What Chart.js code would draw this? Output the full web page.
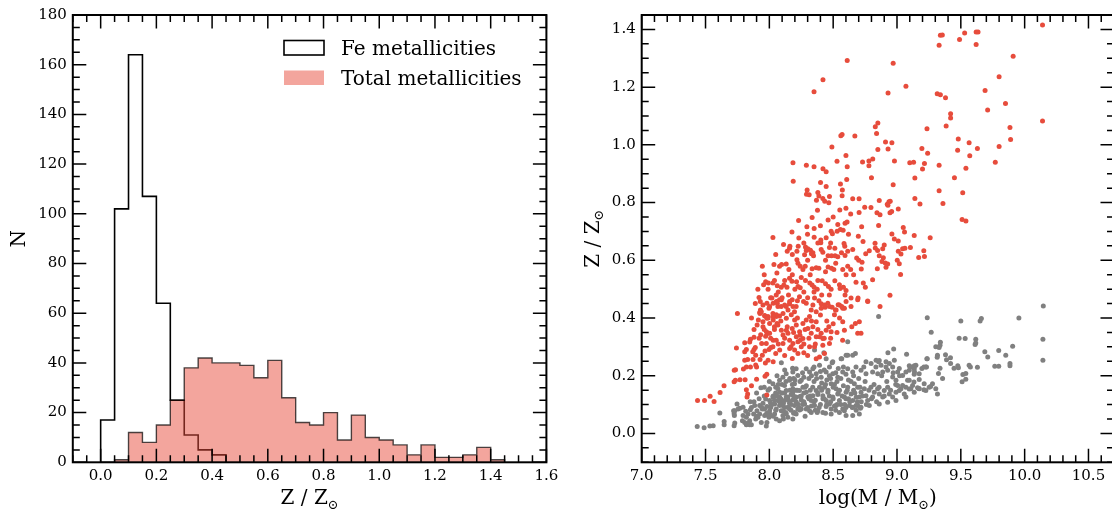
<!DOCTYPE html>
<html>
<head>
<meta charset="utf-8">
<script src="https://cdn.jsdelivr.net/npm/chart.js@4.4.1/dist/chart.umd.min.js"></script>
<style>
html, body { margin: 0; padding: 0; background: #fff; width: 1112px; height: 509px; overflow: hidden; }
canvas { position: absolute; top: 0; }
#hist { left: 0; }
#scatter { left: 560px; }
</style>
</head>
<body>
<canvas id="hist" width="567" height="509"></canvas>
<canvas id="scatter" width="574" height="509"></canvas>
<script>
// histogram bins (width 0.05 starting at 0.0)
const binStart = 0.0;
const binWidth = 0.05;
const feCounts = [17, 102, 164, 107, 64, 25, 11, 5, 3];
const totalCounts = [0, 1, 12, 8, 15, 25, 38, 42, 40, 40, 39, 34, 41, 26, 16, 15, 20, 9, 19, 10, 9, 7, 3, 7, 2, 2, 3, 6, 1];

const histXTicks = [0, 0.2, 0.4, 0.6, 0.8, 1.0, 1.2, 1.4, 1.6];
const histXLabels = ['0.0', '0.2', '0.4', '0.6', '0.8', '1.0', '1.2', '1.4', '1.6'];
const histYTicks = [0, 20, 40, 60, 80, 100, 120, 140, 160, 180];
const histYLabels = ['0', '20', '40', '60', '80', '100', '120', '140', '160', '180'];

const massTicks = [7.0, 7.5, 8.0, 8.5, 9.0, 9.5, 10.0, 10.5];
const massLabels = ['7.0', '7.5', '8.0', '8.5', '9.0', '9.5', '10.0', '10.5'];
const zTicks = [0, 0.2, 0.4, 0.6, 0.8, 1.0, 1.2, 1.4];
const zLabels = ['0.0', '0.2', '0.4', '0.6', '0.8', '1.0', '1.2', '1.4'];

// [log M, Z/Zsun]  total metallicities (red)
const totalPoints = [
[8.61,1.292],[8.97,1.283],[8.42,1.226],[8.35,1.184],[8.93,1.180],[9.07,1.203],[8.85,1.076],[8.83,1.063],[8.84,1.039],[8.57,1.036],
[8.56,1.032],[8.67,1.031],[8.91,1.010],[8.96,1.007],[8.49,0.993],[8.93,0.986],[8.85,0.984],[8.60,0.963],[8.53,0.943],[8.185,0.938],
[8.29,0.929],[8.35,0.924],[8.61,0.924],[8.42,0.917],[8.445,0.907],[8.73,0.941],[8.78,0.944],[8.81,0.951],[8.78,0.928],[8.98,0.944],
[9.10,0.938],[9.13,0.940],
[10.14,1.415],[9.34,1.380],[9.355,1.381],[9.53,1.388],[9.62,1.391],[9.635,1.391],[9.49,1.365],[9.33,1.345],[9.62,1.348],[9.91,1.307],
[9.80,1.236],[9.69,1.188],[9.315,1.177],[9.34,1.174],[9.38,1.163],[9.85,1.143],[9.71,1.121],[9.42,1.108],[9.42,1.093],[10.14,1.083],
[9.385,1.065],[9.235,1.056],[9.885,1.060],[9.89,1.019],[9.48,1.020],[9.565,1.007],[9.195,0.987],[9.24,0.971],[9.475,0.981],[9.63,0.987],
[9.57,0.962],[9.80,0.994],[9.215,0.935],[9.20,0.916],[9.33,0.929],[9.54,0.919],[9.77,0.940],[9.14,0.885],[9.45,0.886],[9.33,0.841],
[9.515,0.834],[9.14,0.814],[9.18,0.795],[9.36,0.797],[9.51,0.741],[9.54,0.736],[9.135,0.686],[9.26,0.678],[9.105,0.644],[9.21,0.633],
[9.17,0.610],[9.215,0.613],
[8.80,0.886],[8.97,0.862],[8.187,0.874],[8.296,0.844],[8.291,0.829],[8.312,0.827],[8.401,0.870],[8.445,0.856],[8.557,0.864],[8.606,0.880],
[8.572,0.844],[8.57,0.824],[8.38,0.835],[8.388,0.823],[8.471,0.821],[8.419,0.814],[8.434,0.805],[8.466,0.799],[8.369,0.808],[8.653,0.813],
[8.703,0.813],[8.747,0.784],[8.796,0.783],[8.861,0.807],[8.937,0.803],[8.947,0.805],[8.924,0.794],[8.929,0.791],[9.01,0.778],[8.843,0.765],
[8.867,0.758],[8.945,0.765],[8.958,0.769],[8.377,0.773],[8.552,0.774],[8.703,0.766],[8.637,0.760],[8.229,0.738],[8.335,0.748],[8.294,0.716],
[8.351,0.710],[8.177,0.698],[8.231,0.677],[8.299,0.690],[8.351,0.680],[8.028,0.679],[8.536,0.724],[8.593,0.728],[8.609,0.733],[8.531,0.701],
[8.557,0.707],[8.578,0.704],[8.445,0.678],[8.484,0.701],[8.494,0.692],[8.723,0.716],[8.856,0.721],[8.96,0.691],[8.979,0.674],[9.01,0.667],
[9.049,0.714],[9.059,0.698],[8.697,0.683],[8.734,0.665],[8.828,0.659],[8.90,0.653],[8.888,0.640],[9.01,0.631],[9.031,0.622],[9.044,0.640],
[9.062,0.642],[8.111,0.655],[8.14,0.631],[8.161,0.649],[8.158,0.642],[8.226,0.649],[8.216,0.631],[8.283,0.646],[8.302,0.640],[8.322,0.635],
[8.289,0.634],[8.341,0.626],[8.276,0.619],[8.33,0.623],[8.346,0.616],[8.406,0.637],[8.419,0.628],[8.403,0.661],[8.403,0.670],[8.46,0.616],
[8.487,0.616],[8.471,0.644],[8.513,0.642],[8.515,0.616],[8.536,0.612],[8.585,0.658],[8.591,0.649],[8.614,0.631],[8.565,0.626],[8.593,0.617],
[8.653,0.637],[8.684,0.608],[8.726,0.593],[8.755,0.623],[8.783,0.633],[8.83,0.643],[8.848,0.634],[8.861,0.616],[8.882,0.596],[8.893,0.609],
[8.908,0.591],[8.927,0.587],[8.914,0.576],[9.002,0.600],[9.018,0.588],[7.945,0.579],[8.036,0.585],[8.059,0.556],[8.08,0.579],[8.096,0.585],
[8.132,0.587],[8.153,0.568],[8.216,0.602],[8.224,0.590],[8.242,0.579],[8.263,0.568],[8.281,0.579],[8.335,0.571],[8.367,0.574],[8.388,0.572],
[8.46,0.577],[8.487,0.572],[8.505,0.568],[8.575,0.568],[8.614,0.579],[8.637,0.568],[8.601,0.550],[8.679,0.524],[8.736,0.521],[8.752,0.507],
[8.809,0.533],[8.846,0.571],[9.028,0.551],[8.945,0.479],[8.867,0.440],[7.971,0.526],[7.992,0.521],[7.955,0.515],[8.028,0.521],[8.062,0.512],
[8.093,0.507],[8.114,0.514],[8.138,0.507],[8.158,0.538],[8.177,0.527],[8.213,0.526],[8.224,0.509],[8.242,0.505],[8.283,0.530],[8.317,0.521],
[8.335,0.514],[8.351,0.507],[8.375,0.500],[8.414,0.529],[8.44,0.519],[8.463,0.509],[8.484,0.500],[8.513,0.529],[8.549,0.515],[8.554,0.502],
[8.58,0.507],[8.601,0.495],[8.593,0.480],[8.64,0.469],[8.695,0.469],[8.77,0.459],[7.919,0.471],[7.929,0.457],[7.95,0.445],[7.981,0.451],
[8.002,0.440],[8.02,0.469],[8.054,0.480],[8.08,0.463],[8.093,0.440],[8.132,0.440],[8.158,0.449],[8.179,0.463],[8.21,0.440],[8.197,0.422],
[8.236,0.474],[8.268,0.457],[8.289,0.451],[8.328,0.428],[8.354,0.469],[8.388,0.460],[8.406,0.449],[8.437,0.437],[8.458,0.451],[8.492,0.437],
[8.518,0.428],[8.539,0.446],[8.567,0.440],[8.588,0.434],[7.75,0.416],[7.924,0.419],[7.963,0.409],[7.989,0.405],[8.028,0.416],[8.054,0.405],
[8.08,0.407],
[7.4375,0.114],[7.492,0.114],[7.536,0.129],[7.567,0.111],[7.614,0.142],[7.645,0.165],[7.724,0.179],[7.734,0.184],[7.725,0.219],[7.735,0.221],
[7.742,0.296],[7.77,0.186],[7.81,0.186],[7.797,0.223],[7.82,0.230],[7.807,0.254],[7.83,0.256],[7.807,0.283],[7.82,0.291],[7.807,0.314],
[7.846,0.317],[7.82,0.151],[7.83,0.137],[7.825,0.126],[7.86,0.165],[7.852,0.230],[7.872,0.256],[7.893,0.271],[7.87,0.283],[7.88,0.291],
[7.89,0.298],[7.852,0.326],[7.88,0.333],[7.90,0.230],[7.893,0.237],[7.927,0.256],[7.945,0.271],[7.94,0.312],[7.932,0.342],[7.904,0.376],
[7.914,0.393],[7.927,0.416],[7.93,0.428],[7.965,0.407],[7.98,0.399],[7.95,0.387],[7.977,0.352],[7.992,0.347],[7.971,0.337],[7.966,0.286],
[7.997,0.291],[8.012,0.298],[7.969,0.244],[7.99,0.254],[7.966,0.198],[7.98,0.205],[7.98,0.133],[7.90,0.188],[8.03,0.248],[8.05,0.277],
[8.03,0.323],[8.04,0.370],[8.06,0.381],[8.03,0.393],[8.055,0.411],[8.03,0.451],[8.055,0.457],[8.067,0.440],
[8.062,0.451],[8.094,0.463],[8.120,0.445],[8.159,0.457],[8.185,0.440],[8.146,0.428],[8.107,0.416],[8.133,0.399],[8.172,0.411],[8.198,0.393],
[8.211,0.376],[8.179,0.364],[8.133,0.358],[8.146,0.347],[8.107,0.341],[8.211,0.335],[8.237,0.352],[8.263,0.381],[8.289,0.393],[8.315,0.405],
[8.302,0.364],[8.341,0.370],[8.367,0.387],[8.328,0.347],[8.263,0.329],[8.224,0.318],[8.25,0.300],[8.185,0.312],[8.159,0.294],[8.198,0.289],
[8.224,0.277],[8.367,0.335],[8.406,0.347],[8.419,0.329],[8.445,0.358],[8.466,0.370],[8.484,0.352],[8.510,0.411],[8.523,0.428],[8.471,0.440],
[8.432,0.445],[8.406,0.434],[8.367,0.422],[8.341,0.445],[8.549,0.445],[8.575,0.434],[8.601,0.457],[8.640,0.440],[8.692,0.463],[8.771,0.457],
[8.575,0.387],[8.588,0.358],[8.574,0.323],[8.646,0.370],[8.674,0.381],[8.705,0.387],[8.692,0.347],[8.718,0.347],[8.471,0.312],[8.419,0.306],
[8.393,0.335],[8.354,0.300],[8.315,0.300],[8.432,0.277],[8.393,0.265],[8.367,0.259],[8.159,0.323],[8.242,0.323],[8.054,0.323],[8.028,0.300],
[8.081,0.289],[8.107,0.312],[8.002,0.347],[7.976,0.312],[7.950,0.370],[8.002,0.381],[7.937,0.422],[7.997,0.434],[8.028,0.405],[8.067,0.376],
[8.094,0.358],
[7.96,0.55],[7.99,0.50],[8.01,0.47],[8.04,0.53],[8.07,0.49],[8.10,0.47],[8.12,0.53],[8.15,0.48],[8.18,0.55],[8.20,0.50],
[8.22,0.46],[8.25,0.54],[8.27,0.49],[8.30,0.47],[8.32,0.55],[8.35,0.49],[8.38,0.53],[8.41,0.48],[8.44,0.56],[8.47,0.48],
[7.96,0.36],[7.99,0.40],[8.01,0.33],[8.04,0.36],[8.07,0.31],[8.09,0.39],[8.12,0.33],[8.14,0.37],[8.17,0.30],[8.19,0.35],
[8.22,0.40],[8.24,0.34],[8.27,0.31],[8.28,0.36],[8.31,0.33],[8.33,0.39],[8.36,0.31],[8.38,0.36],[8.40,0.41],[8.43,0.33],
[8.45,0.39],[8.48,0.33],[8.50,0.38],[8.53,0.35],[8.55,0.40],[8.12,0.27],[8.18,0.26],[8.27,0.28],[8.30,0.27],[7.92,0.33],
[7.88,0.36],[7.86,0.40],[7.89,0.45],[7.91,0.50],[8.05,0.62],[8.18,0.62],[8.30,0.60],[8.44,0.60],[8.52,0.59],[8.38,0.66],
[8.48,0.66],[8.27,0.66],[8.62,0.69],[8.70,0.60],[8.66,0.55],[8.72,0.57],[8.50,0.75],[8.60,0.78],[8.46,0.74],[8.40,0.72]
];

// [log M, Z/Zsun]  Fe metallicities (grey)
const fePoints = [
[10.146,0.442],[9.955,0.400],[9.237,0.401],[9.50,0.390],[9.651,0.390],[9.661,0.398],[9.268,0.351],[9.487,0.330],[9.534,0.329],[10.143,0.326],
[9.617,0.326],[9.617,0.313],[9.612,0.308],[9.34,0.316],[9.337,0.306],[9.33,0.298],[9.906,0.302],[9.797,0.287],[9.688,0.283],[9.711,0.265],
[9.852,0.271],[10.143,0.254],[9.38,0.273],[9.419,0.262],[9.388,0.255],[9.315,0.264],[9.237,0.259],[9.42,0.242],[9.447,0.226],[9.476,0.235],
[9.481,0.228],[9.565,0.236],[9.575,0.230],[9.63,0.229],[9.766,0.233],[9.797,0.233],[9.885,0.242],[9.885,0.235],[9.325,0.208],[9.337,0.226],
[9.357,0.190],[9.516,0.204],[9.539,0.208],[9.539,0.188],[9.51,0.179],[9.263,0.163],[9.211,0.151],[9.172,0.156],[9.096,0.154],[9.133,0.178],
[9.174,0.187],[9.135,0.205],[9.137,0.213],[9.135,0.223],[9.135,0.235],[9.096,0.235],[9.195,0.225],[9.211,0.230],[9.231,0.230],[9.234,0.259],
[7.435,0.024],[7.489,0.020],[7.534,0.026],[7.56,0.027],[7.612,0.071],[7.646,0.041],[7.646,0.030],[7.724,0.027],[7.729,0.036],[7.724,0.068],
[7.729,0.079],[7.755,0.085],[7.747,0.102],[7.789,0.044],[7.807,0.038],[7.82,0.030],[7.846,0.030],[7.976,0.026],[7.981,0.038],[7.893,0.050],
[7.911,0.056],[7.963,0.062],[8.002,0.068],[8.107,0.079],[8.133,0.068],[8.198,0.073],[8.237,0.081],[8.315,0.079],[8.375,0.073],[8.445,0.093],
[8.484,0.085],[8.588,0.079],[8.653,0.091],[8.692,0.097],[8.713,0.087],[8.614,0.318],[8.354,0.289],[8.427,0.280],[8.182,0.226],[8.094,0.245],
[8.492,0.245],[8.567,0.259],[8.614,0.271],[8.674,0.277],[8.856,0.405],[8.929,0.280],[8.974,0.293],[9.075,0.274],[9.304,0.300],[9.317,0.271],
[9.018,0.225],[9.07,0.213],[9.109,0.230],[9.148,0.236],[9.109,0.155],[9.161,0.158],
[8.797,0.242],[8.836,0.254],[8.856,0.248],[8.914,0.230],[8.94,0.242],[8.979,0.254],[8.888,0.213],[8.849,0.207],[8.966,0.196],[8.992,0.184],
[9.018,0.149],[9.044,0.166],[9.083,0.184],
[7.72,0.079],[7.726,0.062],[7.768,0.087],[7.794,0.091],[7.815,0.077],[7.833,0.067],[7.851,0.082],[7.794,0.062],[7.82,0.056],[7.846,0.044],
[7.833,0.035],[7.859,0.030],[7.885,0.097],[7.903,0.079],[7.924,0.067],[7.945,0.085],[7.877,0.067],[7.937,0.038],[7.95,0.105],[7.971,0.119],
[7.981,0.093],[8.002,0.079],[7.976,0.065],[7.997,0.056],[7.934,0.158],
[8.028,0.126],[8.049,0.140],[8.067,0.114],[8.08,0.097],[8.093,0.079],[8.054,0.085],[8.041,0.067],[8.106,0.062],[8.127,0.073],[8.145,0.091],
[8.158,0.105],[8.132,0.126],[8.171,0.135],[8.184,0.116],[8.197,0.097],[8.223,0.085],[8.21,0.067],[8.145,0.056],[8.184,0.050],[8.08,0.044],
[8.054,0.050],
[8.236,0.149],[8.263,0.160],[8.289,0.143],[8.302,0.126],[8.328,0.114],[8.276,0.102],[8.25,0.116],[8.341,0.131],[8.367,0.149],[8.393,0.160],
[8.354,0.097],[8.38,0.079],[8.328,0.073],[8.289,0.085],[8.419,0.131],[8.445,0.114],[8.471,0.102],[8.497,0.126],[8.458,0.143],[8.432,0.160],
[8.484,0.172],[8.523,0.155],[8.536,0.137],[8.549,0.114],[8.523,0.097],[8.575,0.085],[8.588,0.126],[8.601,0.143],[8.614,0.160],[8.64,0.137],
[8.653,0.114],[8.627,0.097],[8.679,0.097],[8.705,0.126],[8.718,0.143],[8.692,0.160],[8.666,0.172],[8.744,0.155],[8.757,0.131],[8.77,0.114],
[8.809,0.126],[8.822,0.143],[8.796,0.160],[8.848,0.155],[8.861,0.137],[8.888,0.126],[8.90,0.149],[8.927,0.160],[8.94,0.137],[8.966,0.126],
[8.992,0.143],[9.005,0.166],[9.031,0.155],[9.057,0.137],[9.07,0.160],[9.096,0.184],[9.122,0.166],[9.135,0.143],[9.174,0.155],[9.213,0.172],
[9.226,0.149],[9.252,0.160],[9.278,0.172],[9.304,0.155],[9.317,0.137],
[8.08,0.184],[8.106,0.195],[8.132,0.207],[8.184,0.213],[8.223,0.201],[8.25,0.184],[8.315,0.213],[8.341,0.224],[8.367,0.207],[8.406,0.195],
[8.445,0.213],[8.471,0.230],[8.497,0.207],[8.536,0.195],[8.575,0.213],[8.614,0.224],[8.653,0.213],[8.679,0.230],[8.718,0.219],[8.757,0.207],
[8.809,0.213],[8.835,0.230],[8.875,0.236],[8.927,0.219],[8.966,0.230],[9.005,0.213],[9.044,0.201],[9.096,0.219],[9.135,0.230],[9.174,0.207],
[9.226,0.230],[8.861,0.253],[8.914,0.248],[8.757,0.248],[8.653,0.271],[8.601,0.271],[8.562,0.259],[8.497,0.248],[8.445,0.259],[8.393,0.236],
[8.289,0.224],[8.21,0.224],[8.158,0.184],[8.119,0.166],[8.028,0.172],[8.002,0.155],[8.067,0.155],[8.197,0.172],[8.184,0.143],[8.419,0.073],
[8.484,0.067],[8.549,0.073],[8.653,0.062],[8.718,0.091],[8.783,0.097],[8.861,0.102],[8.927,0.108],[8.992,0.114],[9.07,0.126],[8.705,0.067],
[8.601,0.062],
[8.002,0.114],[8.015,0.097],[8.041,0.102],[8.08,0.126],[8.119,0.114],[8.145,0.126],[8.184,0.155],[8.21,0.126],[8.223,0.102],[8.25,0.085],
[8.158,0.085],[8.106,0.097],[8.08,0.143],[8.132,0.149],[7.963,0.085],[7.924,0.097],
[8.01,0.105],[8.04,0.115],[8.06,0.130],[8.09,0.120],[8.11,0.105],[8.12,0.140],[8.15,0.115],[8.17,0.100],[8.19,0.130],[8.21,0.110],
[8.22,0.150],[8.24,0.128],[8.26,0.100],[8.27,0.140],[8.29,0.165],[8.31,0.120],[8.32,0.150],[8.33,0.095],[8.35,0.180],[8.36,0.115],
[8.38,0.135],[8.40,0.100],[8.41,0.175],[8.43,0.120],[8.45,0.185],[8.46,0.150],[8.48,0.110],[8.50,0.160],[8.51,0.095],[8.53,0.180],
[8.55,0.150],[8.56,0.100],[8.58,0.165],[8.60,0.120],[8.62,0.185],[8.63,0.110],[8.66,0.150],[8.68,0.125],[8.70,0.190],[8.72,0.110],
[8.05,0.160],[8.10,0.170],[8.16,0.190],[8.20,0.185],[8.27,0.195],[8.33,0.200],[8.40,0.215],[8.47,0.200],[8.54,0.225],[8.60,0.205],
[7.86,0.09],[7.88,0.11],[7.90,0.06],[7.92,0.12],[7.94,0.09],[7.96,0.13],[7.98,0.07],[7.99,0.15],[8.01,0.09],[8.03,0.13],
[8.05,0.08],[8.07,0.17],[8.08,0.11],[8.10,0.14],[8.12,0.09],[8.13,0.18],[8.14,0.12],[8.16,0.15],[8.17,0.08],[8.18,0.17],
[8.20,0.12],[8.21,0.15],[8.23,0.09],[8.24,0.18],[8.25,0.13],[8.27,0.11],[8.28,0.16],[8.30,0.09],[8.31,0.19],[8.32,0.13],
[8.34,0.16],[8.35,0.11],[8.37,0.19],[8.38,0.14],[8.39,0.09],[8.41,0.15],[8.42,0.12],[8.44,0.17],[8.45,0.10],[8.47,0.13],
[8.48,0.19],[8.50,0.12],[8.51,0.17],[8.53,0.10],[8.54,0.14],[8.56,0.19],[8.57,0.13],[8.59,0.10],[8.61,0.15],[8.62,0.12],
[8.64,0.18],[8.65,0.09],[8.67,0.14],[8.69,0.11],[8.71,0.16],[8.73,0.13],[8.75,0.18],[8.76,0.10],[8.78,0.15],[8.80,0.12],
[8.82,0.17],[8.84,0.11],[8.86,0.16],[8.88,0.20],[8.90,0.13],[8.92,0.18],[8.95,0.15],[8.97,0.21],[8.99,0.17],[9.02,0.20],
[8.06,0.20],[8.12,0.22],[8.19,0.19],[8.26,0.21],[8.35,0.23],[8.43,0.22],[8.52,0.21],[8.58,0.23],[8.66,0.20],[8.74,0.23],
[8.03,0.06],[8.11,0.05],[8.19,0.07],[8.28,0.06],[8.36,0.08],[8.44,0.07],[8.52,0.08],[8.60,0.09],[8.68,0.08],[7.85,0.11],
[7.90,0.14],[7.96,0.16],[8.00,0.18]
];

Chart.defaults.font.family = '"DejaVu Serif", serif';
Chart.defaults.font.size = 15;
Chart.defaults.color = '#000';

const SERIF = '"DejaVu Serif", serif';
const RED_FILL = 'rgba(231, 76, 60, 0.5)';

function stepPoints(counts) {
    const pts = [{ x: binStart, y: 0 }];
    counts.forEach((c, i) => pts.push({ x: +(binStart + i * binWidth).toFixed(3), y: c }));
    pts.push({ x: +(binStart + counts.length * binWidth).toFixed(3), y: 0 });
    return pts;
}

function minorValues(min, max, step) {
    const out = [];
    const i0 = Math.ceil(min / step - 1e-6);
    const i1 = Math.floor(max / step + 1e-6);
    for (let i = i0; i <= i1; i++) out.push(+(i * step).toFixed(4));
    return out;
}

function drawParts(ctx, parts, cx, cy, rotated) {
    const big = '20px ' + SERIF, small = '13px ' + SERIF;
    let w = 0;
    parts.forEach(p => { ctx.font = p.sub ? small : big; w += ctx.measureText(p.text).width; });
    ctx.save();
    ctx.fillStyle = '#000';
    ctx.textBaseline = 'alphabetic';
    ctx.textAlign = 'left';
    if (rotated) {
        ctx.translate(cx + 7, cy);
        ctx.rotate(-Math.PI / 2);
    } else {
        ctx.translate(cx, cy);
    }
    let x = -w / 2;
    parts.forEach(p => {
        ctx.font = p.sub ? small : big;
        ctx.fillText(p.text, x, p.sub ? 4.5 : 0);
        x += ctx.measureText(p.text).width;
    });
    ctx.restore();
}

// inward ticks on four sides, frame, axis titles, legend
const decor = {
    id: 'decor',
    afterDraw(chart, args, o) {
        const ctx = chart.ctx;
        const a = chart.chartArea;
        const sx = chart.scales.x, sy = chart.scales.y;
        ctx.save();
        ctx.strokeStyle = '#000';
        ctx.lineWidth = 1.5;
        ctx.beginPath();
        const xTick = (v, len) => {
            const p = sx.getPixelForValue(v);
            ctx.moveTo(p, a.bottom); ctx.lineTo(p, a.bottom - len);
            ctx.moveTo(p, a.top); ctx.lineTo(p, a.top + len);
        };
        const yTick = (v, len) => {
            const p = sy.getPixelForValue(v);
            ctx.moveTo(a.left, p); ctx.lineTo(a.left + len, p);
            ctx.moveTo(a.right, p); ctx.lineTo(a.right - len, p);
        };
        sx.ticks.forEach(t => xTick(t.value, 13.5));
        sy.ticks.forEach(t => yTick(t.value, 13.5));
        minorValues(sx.min, sx.max, o.xMinor).forEach(v => xTick(v, 7));
        minorValues(sy.min, sy.max, o.yMinor).forEach(v => yTick(v, 7));
        ctx.stroke();
        ctx.lineWidth = 2;
        ctx.strokeRect(a.left, a.top, a.right - a.left, a.bottom - a.top);
        ctx.restore();

        drawParts(ctx, o.xTitle, (a.left + a.right) / 2, a.bottom + 42, false);
        drawParts(ctx, o.yTitle, a.left + o.yTitleOffset, (a.top + a.bottom) / 2, true);

        if (o.legend) {
            const L = o.legend;
            const ds = chart.data.datasets;
            ctx.save();
            ctx.font = '20px ' + SERIF;
            ctx.textBaseline = 'alphabetic';
            L.rows.forEach(r => {
                const d = ds[r.index];
                if (r.filled) {
                    ctx.fillStyle = d.backgroundColor;
                    ctx.fillRect(L.x, r.y, L.w, L.h);
                } else {
                    ctx.strokeStyle = d.borderColor;
                    ctx.lineWidth = 1.6;
                    ctx.strokeRect(L.x, r.y, L.w, L.h);
                }
                ctx.fillStyle = '#000';
                ctx.fillText(d.label, L.textX, r.y + L.h);
            });
            ctx.restore();
        }
    }
};

function fixedTicks(values, labels, pad) {
    return {
        afterBuildTicks: scale => { scale.ticks = values.map(v => ({ value: v })); },
        ticks: { autoSkip: false, maxRotation: 0, padding: pad, callback: (v, i) => labels[i] }
    };
}

new Chart(document.getElementById('hist'), {
    type: 'line',
    data: {
        datasets: [{
            label: 'Fe metallicities',
            data: stepPoints(feCounts),
            stepped: true,
            borderColor: '#000',
            borderWidth: 1.6,
            fill: false,
            pointRadius: 0,
            order: 2
        }, {
            label: 'Total metallicities',
            data: stepPoints(totalCounts),
            stepped: true,
            borderColor: 'rgba(0, 0, 0, 0.7)',
            borderWidth: 1.4,
            backgroundColor: RED_FILL,
            fill: 'origin',
            pointRadius: 0,
            order: 1
        }]
    },
    options: {
        responsive: false,
        animation: false,
        events: [],
        layout: { padding: { left: 0, top: 15, right: 20.6, bottom: 0 } },
        scales: {
            x: Object.assign({
                type: 'linear', min: -0.1, max: 1.6,
                grid: { display: false, drawTicks: false },
                border: { display: false },
                afterFit: s => { s.height = 46.7; }
            }, fixedTicks(histXTicks, histXLabels, 5)),
            y: Object.assign({
                type: 'linear', min: 0, max: 180,
                grid: { display: false, drawTicks: false },
                border: { display: false },
                afterFit: s => { s.width = 72.8; }
            }, fixedTicks(histYTicks, histYLabels, 6))
        },
        plugins: {
            legend: { display: false },
            tooltip: { enabled: false },
            decor: {
                xMinor: 0.05, yMinor: 5,
                xTitle: [{ text: 'Z / Z' }, { text: '\u2299', sub: true }],
                yTitle: [{ text: 'N' }],
                yTitleOffset: -55,
                legend: {
                    x: 284, w: 40, h: 14.5, textX: 341,
                    rows: [{ index: 0, y: 40.5, filled: false }, { index: 1, y: 70.5, filled: true }]
                }
            }
        }
    },
    plugins: [decor]
});

new Chart(document.getElementById('scatter'), {
    type: 'scatter',
    data: {
        datasets: [{
            label: 'Total metallicities',
            data: totalPoints.map(p => ({ x: p[0], y: p[1] })),
            backgroundColor: '#e74c3c',
            borderWidth: 0,
            pointRadius: 2.5,
            order: 1
        }, {
            label: 'Fe metallicities',
            data: fePoints.map(p => ({ x: p[0], y: p[1] })),
            backgroundColor: '#808080',
            borderWidth: 0,
            pointRadius: 2.5,
            order: 2
        }]
    },
    options: {
        responsive: false,
        animation: false,
        events: [],
        layout: { padding: { left: 0, top: 15, right: 20, bottom: 0 } },
        scales: {
            x: Object.assign({
                type: 'linear', min: 7.0, max: 10.7,
                grid: { display: false, drawTicks: false },
                border: { display: false },
                afterFit: s => { s.height = 46.7; }
            }, fixedTicks(massTicks, massLabels, 5)),
            y: Object.assign({
                type: 'linear', min: -0.1, max: 1.45,
                grid: { display: false, drawTicks: false },
                border: { display: false },
                afterFit: s => { s.width = 81.7; }
            }, fixedTicks(zTicks, zLabels, 6))
        },
        plugins: {
            legend: { display: false },
            tooltip: { enabled: false },
            decor: {
                xMinor: 0.1, yMinor: 0.05,
                xTitle: [{ text: 'log(M / M' }, { text: '\u2299', sub: true }, { text: ')' }],
                yTitle: [{ text: 'Z / Z' }, { text: '\u2299', sub: true }],
                yTitleOffset: -50
            }
        }
    },
    plugins: [decor]
});
</script>
</body>
</html>
